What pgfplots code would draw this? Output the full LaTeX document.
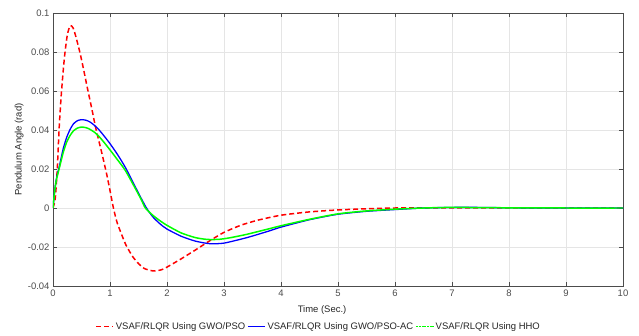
\documentclass[border=0pt]{standalone}
\usepackage{fontspec}
\setmainfont{Liberation Sans}
\usepackage{pgfplots}
\pgfplotsset{compat=1.18}
\definecolor{axgray}{gray}{0.3}
\definecolor{gridgray}{gray}{0.9}
\begin{document}
\begin{tikzpicture}
\useasboundingbox (-53bp,-50bp) rectangle (586bp,286bp);
\begin{axis}[
  at={(0,0)}, anchor=south west,
  scale only axis, width=570bp, height=273bp,
  xmin=0, xmax=10, ymin=-0.04, ymax=0.1,
  xtick={0,1,...,10},
  ytick={-0.04,-0.02,0,0.02,0.04,0.06,0.08,0.1},
  yticklabels={-0.04,-0.02,0,0.02,0.04,0.06,0.08,0.1},
  grid=major,
  major grid style={gridgray, line width=0.5pt},
  axis line style={axgray, line width=0.6pt},
  tick style={axgray, line width=0.6pt},
  major tick length=4bp,
  tick align=inside,
  ticklabel style={font=\fontsize{9.5}{11}\selectfont, text=axgray},
  /pgf/number format/assume math mode=true,
  xlabel={Time (Sec.)},
  ylabel={Pendulum Angle (rad)},
  label style={font=\fontsize{9.5}{11}\selectfont, text=black!85},
  xlabel style={at={(0.472,0)}, anchor=north, yshift=-16bp},
  ylabel style={at={(0,0.5)}, anchor=south, yshift=26bp},
  legend columns=3,
  legend style={at={(0.466,0)}, anchor=north, yshift=-32bp, draw=none, fill=none,
    font=\fontsize{9.5}{11}\selectfont, text=black!85,
    /tikz/every even column/.append style={column sep=0pt}},
  legend cell align=left,
]
\addplot[red, line width=1.5pt, dash pattern=on 5bp off 3bp, smooth, tension=0.4] coordinates {
(0,0) (0.04,0.005) (0.075,0.02) (0.11,0.042) (0.15,0.06) (0.2,0.077) (0.25,0.0885) (0.3,0.0935) (0.35,0.0925) (0.4,0.088) (0.47,0.08) (0.53,0.072) (0.6,0.062) (0.68,0.051) (0.75,0.041) (0.85,0.029) (0.94,0.0176) (1.0,0.009) (1.06,0) (1.12,-0.007) (1.18,-0.0118) (1.28,-0.019) (1.4,-0.025) (1.5,-0.0285) (1.6,-0.031) (1.76,-0.0323) (1.9,-0.0317) (2.0,-0.0303) (2.23,-0.0264) (2.5,-0.0215) (2.75,-0.0168) (3.0,-0.0125) (3.3,-0.0088) (3.6,-0.0062) (4.0,-0.0037) (4.5,-0.002) (5.0,-0.001) (5.5,-0.0004) (6,0) (7,0) (8,0) (9,0) (10,0)
};
\addlegendentry{VSAF/RLQR Using GWO/PSO}
\addplot[blue, line width=1.3pt, smooth, tension=0.4] coordinates {
(0,0) (0.03,0.009) (0.06,0.015) (0.12,0.0225) (0.18,0.0305) (0.24,0.0362) (0.3,0.0403) (0.36,0.0432) (0.43,0.0448) (0.5,0.0453) (0.58,0.045) (0.65,0.0441) (0.73,0.0423) (0.81,0.040) (0.9,0.0368) (1.0,0.033) (1.13,0.0275) (1.27,0.0208) (1.45,0.0105) (1.55,0.0048) (1.64,0) (1.75,-0.0045) (1.88,-0.0082) (2.0,-0.0108) (2.25,-0.0145) (2.5,-0.0170) (2.75,-0.0183) (3.0,-0.0180) (3.4,-0.0152) (3.8,-0.0117) (4.0,-0.0098) (4.5,-0.006) (5.0,-0.0032) (5.5,-0.0017) (6.0,-0.0008) (6.5,0) (7,0.0003) (7.5,0.0003) (8,0.0001) (9,0) (10,0)
};
\addlegendentry{VSAF/RLQR Using GWO/PSO-AC}
\addplot[green, line width=1.5pt, smooth, tension=0.4, legend image post style={dash pattern=on 2bp off 0.8bp}] coordinates {
(0,0) (0.03,0.0088) (0.06,0.0145) (0.12,0.0215) (0.18,0.0285) (0.24,0.0338) (0.3,0.0372) (0.36,0.0396) (0.43,0.041) (0.5,0.0415) (0.58,0.0412) (0.65,0.0403) (0.73,0.0388) (0.81,0.0366) (0.9,0.0335) (1.0,0.0298) (1.13,0.0248) (1.27,0.0192) (1.45,0.0097) (1.55,0.0042) (1.62,0) (1.75,-0.0037) (1.88,-0.0066) (2.0,-0.0089) (2.25,-0.0128) (2.5,-0.0152) (2.7,-0.0161) (2.9,-0.0161) (3.1,-0.0153) (3.4,-0.0135) (3.8,-0.0106) (4.0,-0.0091) (4.5,-0.0058) (5.0,-0.003) (5.5,-0.0015) (6.0,-0.0006) (6.5,0) (7,0.0003) (8,0.0001) (9,0) (10,0)
};
\addlegendentry{VSAF/RLQR Using HHO}
\end{axis}
\end{tikzpicture}
\end{document}
